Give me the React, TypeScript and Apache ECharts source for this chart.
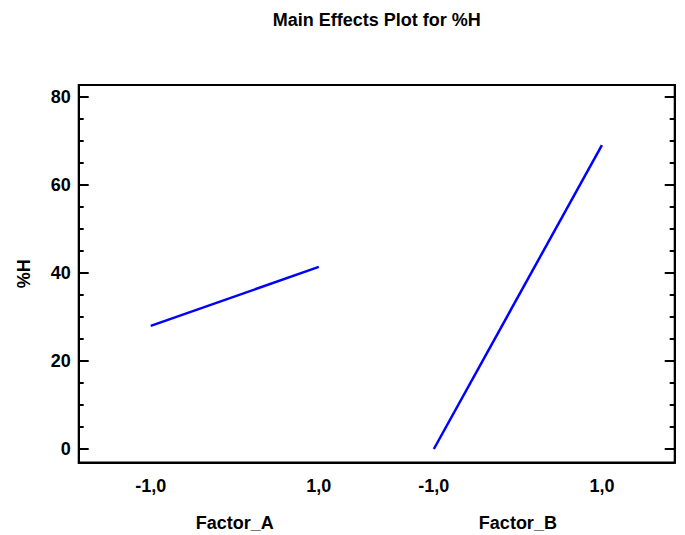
import React, { useEffect, useRef } from "react";
import * as echarts from "echarts";

const title = "Main Effects Plot for %H";
const yName = "%H";
const factors = ["Factor_A", "Factor_B"];
const levels = [-1, 1];
const levelLabels = ["-1,0", "1,0"];
// mean response at low / high level for each factor
const factorAValues = [28.0, 41.4];
const factorBValues = [0.0, 69.1];
const yTickLabels = [0, 20, 40, 60, 80];
const yMinorTicks = [0, 5, 10, 15, 20, 25, 30, 35, 40, 45, 50, 55, 60, 65, 70, 75, 80];

// layout: horizontal placement of each factor panel on the shared x axis
const factorOffsets = [0, 3.369];
const X_MIN = -1.857;
const X_MAX = 5.235;
const Y_MIN = -3.07;
const Y_MAX = 82.77;

const FONT = "'Liberation Sans', Arial, sans-serif";

export default function App() {
  const ref = useRef<HTMLDivElement>(null);

  useEffect(() => {
    document.body.style.margin = "0";
    if (!ref.current) return;
    const chart = echarts.init(ref.current, undefined, { renderer: "svg" });

    const valueSets = [factorAValues, factorBValues];
    const levelPositions: number[] = [];
    const levelText: string[] = [];
    factorOffsets.forEach((off) => {
      levels.forEach((lv, i) => {
        levelPositions.push(lv + off);
        levelText.push(levelLabels[i]);
      });
    });
    const findLabel = (v: number) => {
      let best = 0;
      let d = Infinity;
      levelPositions.forEach((p, i) => {
        if (Math.abs(p - v) < d) {
          d = Math.abs(p - v);
          best = i;
        }
      });
      return levelText[best];
    };
    const findFactor = (v: number) => {
      let best = 0;
      let d = Infinity;
      factorOffsets.forEach((p, i) => {
        if (Math.abs(p - v) < d) {
          d = Math.abs(p - v);
          best = i;
        }
      });
      return factors[best];
    };

    const labelStyle = {
      color: "#000",
      fontFamily: FONT,
      fontWeight: "bold" as const,
      fontSize: 18,
    };

    const gridLeft = 78.7;
    const gridRight = 10.3;
    const plotCenter = gridLeft + (685 - gridLeft - gridRight) / 2;

    const yBase = {
      type: "value" as const,
      min: Y_MIN,
      max: Y_MAX,
      splitLine: { show: false },
      axisLine: { show: true, onZero: false, lineStyle: { color: "#000", width: 2 } },
    };

    chart.setOption({
      animation: false,
      graphic: [
        {
          type: "text",
          x: plotCenter,
          y: 11,
          style: {
            text: title,
            textAlign: "center",
            fill: "#000",
            font: `bold 18px ${FONT}`,
          },
        },
      ],
      grid: {
        left: gridLeft,
        right: gridRight,
        top: 85,
        bottom: 72.5,
        show: true,
        borderColor: "#000",
        borderWidth: 2,
        backgroundColor: "transparent",
      },
      xAxis: [
        {
          type: "value",
          min: X_MIN,
          max: X_MAX,
          position: "bottom",
          splitLine: { show: false },
          axisLine: { show: true, onZero: false, lineStyle: { color: "#000", width: 2 } },
          axisTick: { show: false },
          axisLabel: {
            ...labelStyle,
            margin: 14,
            customValues: levelPositions,
            formatter: (v: number) => findLabel(v),
          },
        },
        {
          type: "value",
          min: X_MIN,
          max: X_MAX,
          position: "bottom",
          splitLine: { show: false },
          axisLine: { show: false, onZero: false },
          axisTick: { show: false },
          axisLabel: {
            ...labelStyle,
            margin: 51,
            customValues: factorOffsets,
            formatter: (v: number) => findFactor(v),
          },
        },
      ],
      yAxis: [
        {
          ...yBase,
          position: "left",
          name: yName,
          nameLocation: "middle",
          nameGap: 46,
          nameTextStyle: { ...labelStyle },
          axisTick: {
            show: true,
            inside: true,
            length: 10,
            lineStyle: { color: "#000", width: 2 },
            customValues: yTickLabels,
          },
          axisLabel: {
            ...labelStyle,
            margin: 8,
            customValues: yTickLabels,
          },
        },
        {
          ...yBase,
          position: "left",
          axisTick: {
            show: true,
            inside: true,
            length: 5,
            lineStyle: { color: "#000", width: 2 },
            customValues: yMinorTicks,
          },
          axisLabel: { show: false },
        },
        {
          ...yBase,
          position: "right",
          axisTick: {
            show: true,
            inside: true,
            length: 10,
            lineStyle: { color: "#000", width: 2 },
            customValues: yTickLabels,
          },
          axisLabel: { show: false },
        },
        {
          ...yBase,
          position: "right",
          axisTick: {
            show: true,
            inside: true,
            length: 5,
            lineStyle: { color: "#000", width: 2 },
            customValues: yMinorTicks,
          },
          axisLabel: { show: false },
        },
      ],
      series: factors.map((f, fi) => ({
        name: f,
        type: "line",
        xAxisIndex: 0,
        yAxisIndex: 0,
        showSymbol: false,
        symbol: "none",
        lineStyle: { color: "#0000ff", width: 2.5 },
        data: levels.map((lv, i) => [lv + factorOffsets[fi], valueSets[fi][i]]),
      })),
    });

    return () => chart.dispose();
  }, []);

  return <div ref={ref} style={{ width: 685, height: 535 }} />;
}
